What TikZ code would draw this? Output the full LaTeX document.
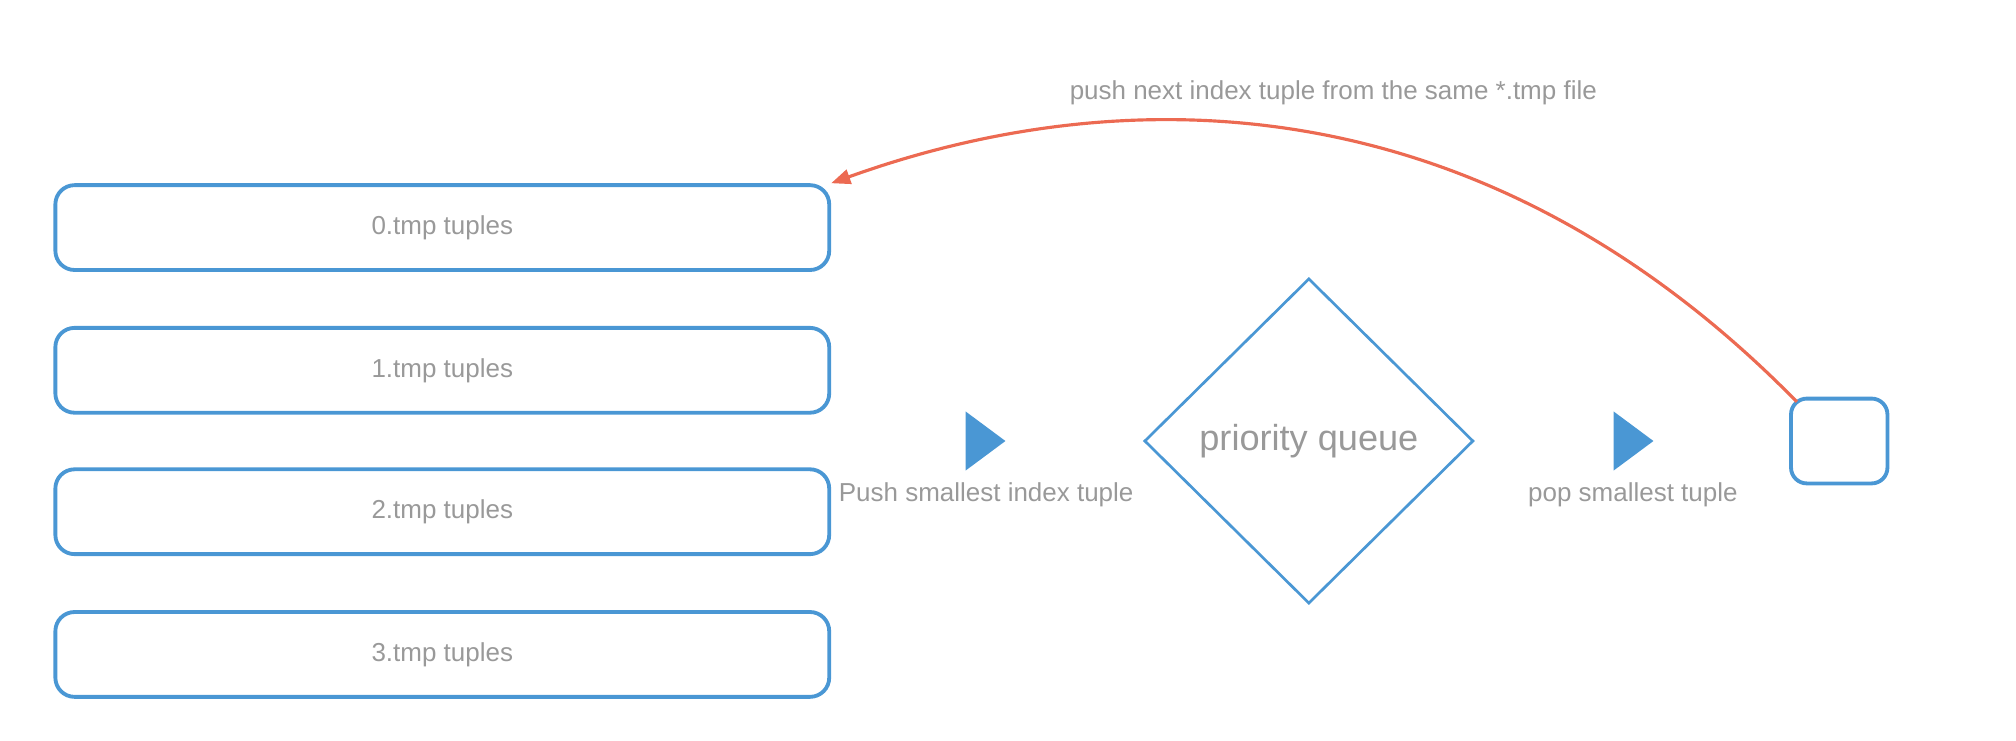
\documentclass[tikz,border=0pt]{standalone}
\usepackage{fontspec}
\setmainfont{Liberation Sans}
\usepackage{tikz}
\usetikzlibrary{shapes.geometric}
\usetikzlibrary{arrows.meta}
\definecolor{qblue}{HTML}{4A97D4}
\definecolor{qred}{HTML}{EC6A52}
\definecolor{qgray}{HTML}{999999}
\tikzstyle{fx}=[draw=qblue,rectangle,rounded corners=8.5pt,line width=1.7pt,minimum width=12.04cm,minimum height=1.32cm,inner sep=0pt,text=qgray,font=\fontsize{11.5}{13}\selectfont]
\tikzstyle{sx}=[draw=qblue,rectangle,rounded corners=7pt,line width=1.7pt,minimum width=1.5cm,minimum height=1.32cm,inner sep=0pt]
\tikzstyle{qx}=[draw=qblue,diamond,line width=1.2pt,minimum width=5.12cm,minimum height=5.06cm,inner sep=0pt,text=qgray,font=\fontsize{16}{18}\selectfont]
\tikzstyle{lx}=[text=qgray,inner sep=0pt,font=\fontsize{11.5}{13}\selectfont]
\begin{document}
\begin{tikzpicture}[x=0.02cm,y=-0.02cm]
%      \draw [help lines] (0,0) grid (1568,576);
      \useasboundingbox (0,0) rectangle (1568,575.6);
      \node [fx] (t0) at (344,177) {\raisebox{-1pt}{0.tmp tuples}};
      \node [fx] (t1) at (344,288) {\raisebox{-1pt}{1.tmp tuples}};
      \node [fx] (t2) at (344,398) {\raisebox{-1pt}{2.tmp tuples}};
      \node [fx] (t3) at (344,509) {\raisebox{-1pt}{3.tmp tuples}};
      \node [qx] (pq) at (1018,343) {\raisebox{-2.5pt}{priority queue}};
      \node [sx] (out) at (1430.5,343) {};
      \fill [qblue] (751,320) -- (751,366) -- (782,343) -- cycle;
      \fill [qblue] (1255,320) -- (1255,366) -- (1286,343) -- cycle;
      \node [lx] (pushlbl) at (767,385) {Push smallest index tuple};
      \node [lx] (poplbl) at (1270,385) {pop smallest tuple};
      \node [lx] (nextlbl) at (1037,72) {push next index tuple from the same *.tmp file};
      \path [draw=qred, line width=1.4pt, -{Triangle[length=8.5pt,width=6.5pt]}]
      ([shift={(6,4)}]out.north west) .. controls (1150,60) and (870,62) .. (t0.north east);
    \end{tikzpicture}
\end{document}
